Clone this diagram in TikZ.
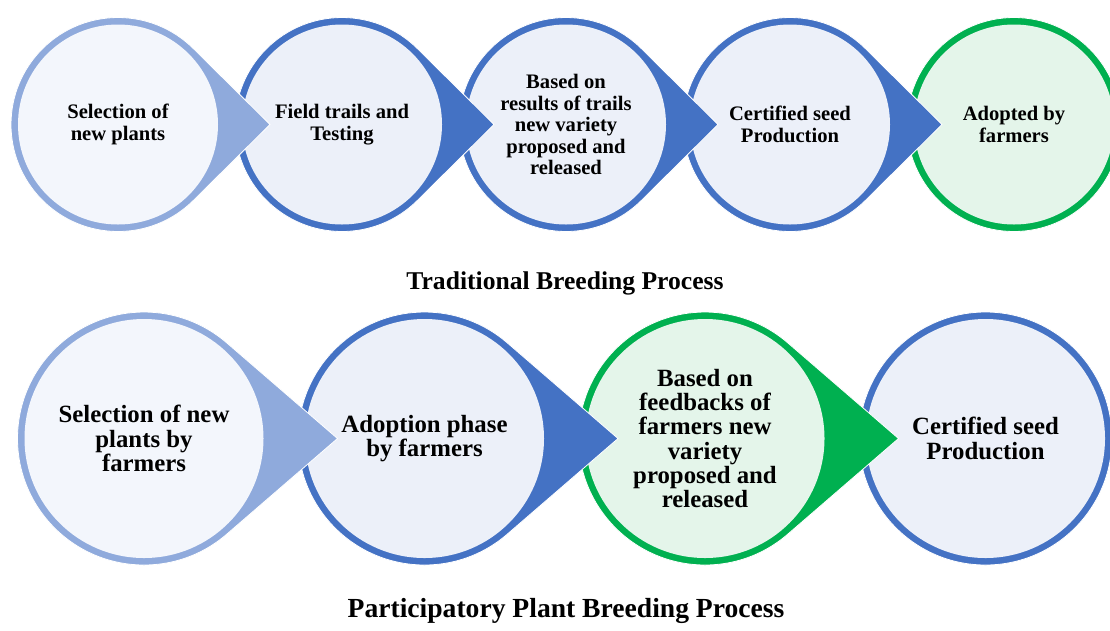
\documentclass[tikz,border=0pt]{standalone}
\usepackage{fontspec}
\setmainfont{Liberation Serif}
\definecolor{lblue}{HTML}{8FAADC}
\definecolor{lbluefill}{HTML}{F3F6FC}
\definecolor{dblue}{HTML}{4472C4}
\definecolor{dbluefill}{HTML}{ECF0F9}
\definecolor{grn}{HTML}{00B050}
\definecolor{grnfill}{HTML}{E4F5EA}
\tikzset{
  toptext/.style={circle, inner sep=0pt, align=center, text=black,
    font=\bfseries\fontsize{20.6}{21.5}\selectfont},
  bottext/.style={circle, inner sep=0pt, align=center, text=black,
    font=\bfseries\fontsize{24.8}{24.3}\selectfont},
  tailshape/.style={draw=white, line width=0.8pt},
  titletext/.style={inner sep=0pt, text=black},
}
% #1 name, #2 cx, #3 cy, #4 outer R, #5 tip distance (0 = none), #6 stroke, #7 fill, #8 style, #9 text
\newcommand\mystage[9]{%
  \ifdim #5pt>0pt
    \pgfmathsetmacro\myang{acos(#4/#5)}%
    \fill[#6, tailshape] (#2,#3) ++(\myang:#4)
      arc[start angle=\myang, end angle={360-\myang}, radius=#4]
      -- ({#2+#5},#3) -- cycle;
  \else
    \fill[#6, tailshape] (#2,#3) circle[radius=#4];
  \fi
  \node[#8, fill=#7, minimum size={2*(#4-7)}] (#1) at (#2,#3) {#9};
}
\begin{document}
\begin{tikzpicture}[x=1pt,y=-1pt]
\useasboundingbox (0,0) rectangle (1110,630);
\clip (0,0) rectangle (1110,630);
\fill[white] (0,0) rectangle (1110,630);
% Top row (drawn right to left so each tail overlaps the next circle)
\mystage{t5}{1014}{124.5}{107}{0}{grn}{grnfill}{toptext}{Adopted by\\farmers}
\mystage{t4}{790}{124.5}{107}{152}{dblue}{dbluefill}{toptext}{Certified seed\\Production}
\mystage{t3}{566}{124.5}{107}{152}{dblue}{dbluefill}{toptext}{Based on\\results of trails\\new variety\\proposed and\\released}
\mystage{t2}{342}{124.5}{107}{152}{dblue}{dbluefill}{toptext}{Field trails and\\Testing}
\mystage{t1}{118}{124.5}{107}{152}{lblue}{lbluefill}{toptext}{Selection of\\new plants}
\node[titletext, font=\bfseries\fontsize{25.6}{28}\selectfont] (title1) at (565,283) {Traditional Breeding Process};
% Bottom row
\mystage{b4}{985.5}{438.5}{126.5}{0}{dblue}{dbluefill}{bottext}{Certified seed\\Production}
\mystage{b3}{705}{438.5}{126.5}{193.5}{grn}{grnfill}{bottext}{Based on\\feedbacks of\\farmers new\\variety\\proposed and\\released}
\mystage{b2}{424.5}{438.5}{126.5}{193.5}{dblue}{dbluefill}{bottext}{Adoption phase\\by farmers}
\mystage{b1}{144}{438.5}{126.5}{193.5}{lblue}{lbluefill}{bottext}{Selection of new\\plants by\\farmers}
\node[titletext, font=\bfseries\fontsize{27.6}{30}\selectfont] (title2) at (566,611) {Participatory Plant Breeding Process};
\end{tikzpicture}
\end{document}
